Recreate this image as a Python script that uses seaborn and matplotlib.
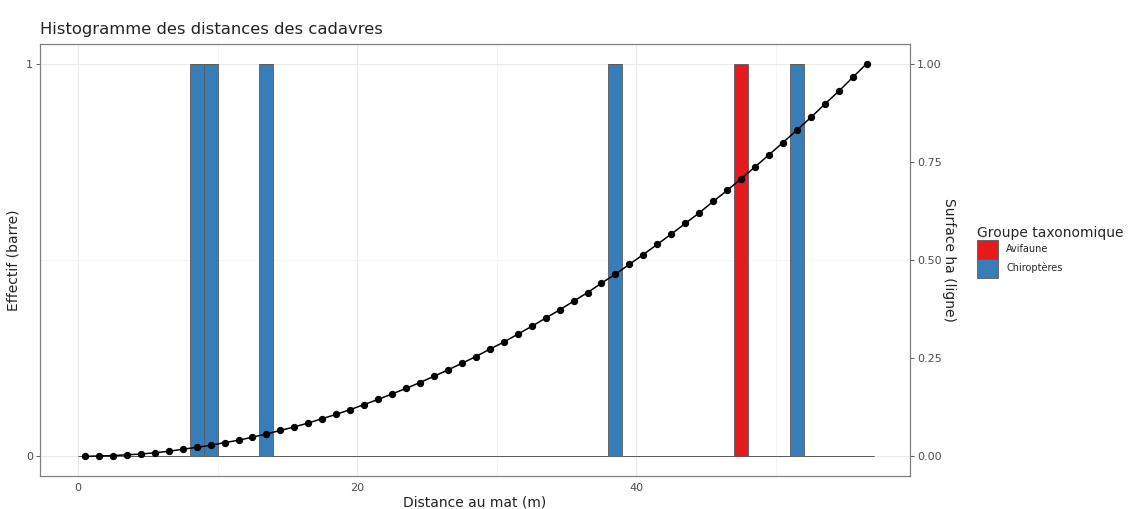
import matplotlib
matplotlib.use("Agg")
import matplotlib.pyplot as plt
from matplotlib.patches import Patch
from matplotlib.ticker import MultipleLocator
import numpy as np
import pandas as pd
import seaborn as sns

# cadavres : distance au mat (m) et groupe
distances = [8.6, 9.4, 13.6, 38.4, 47.5, 51.4]
groupes = ["Chiroptères", "Chiroptères", "Chiroptères", "Chiroptères", "Avifaune", "Chiroptères"]
groupe_order = ["Avifaune", "Chiroptères"]
groupe_colors = ["#E41A1C", "#377EB8"]

# surface (ha, normalisée) par anneau de distance
surf_dist = [0.5, 1.5, 2.5, 3.5, 4.5, 5.5, 6.5, 7.5, 8.5, 9.5, 10.5, 11.5, 12.5, 13.5,
             14.5, 15.5, 16.5, 17.5, 18.5, 19.5, 20.5, 21.5, 22.5, 23.5, 24.5, 25.5,
             26.5, 27.5, 28.5, 29.5, 30.5, 31.5, 32.5, 33.5, 34.5, 35.5, 36.5, 37.5,
             38.5, 39.5, 40.5, 41.5, 42.5, 43.5, 44.5, 45.5, 46.5, 47.5, 48.5, 49.5,
             50.5, 51.5, 52.5, 53.5, 54.5, 55.5, 56.5]
surf_ha = [0.000, 0.001, 0.002, 0.004, 0.006, 0.009, 0.013, 0.018, 0.023, 0.028, 0.035,
           0.041, 0.049, 0.057, 0.066, 0.075, 0.085, 0.096, 0.107, 0.119, 0.132, 0.145,
           0.159, 0.173, 0.188, 0.204, 0.220, 0.237, 0.254, 0.273, 0.291, 0.311, 0.331,
           0.352, 0.373, 0.395, 0.417, 0.441, 0.464, 0.489, 0.514, 0.540, 0.566, 0.593,
           0.620, 0.649, 0.677, 0.707, 0.737, 0.768, 0.799, 0.831, 0.863, 0.897, 0.930,
           0.965, 1.000]

df = pd.DataFrame({"distance": distances, "groupe": groupes})
df_surf = pd.DataFrame({"d": surf_dist, "s": surf_ha})

sns.set_style("white")
plt.rcParams["font.family"] = ["DejaVu Sans"]

fig = plt.figure(figsize=(11.28, 5.09), dpi=100)
ax = fig.add_axes([40 / 1128, 1 - 476 / 509, 870 / 1128, 432 / 509])

sns.histplot(data=df, x="distance", hue="groupe", hue_order=groupe_order,
             palette=groupe_colors, bins=np.arange(0, 58, 1), multiple="stack",
             edgecolor="#5a5a5a", linewidth=0.6, alpha=1, legend=False, ax=ax)

ax.set_xlim(-2.72, 59.6)
ax.set_ylim(-0.05, 1.05)
ax.set_yticks([0, 1])
ax.set_xticks([0, 20, 40])
ax.xaxis.set_minor_locator(MultipleLocator(10))
ax.yaxis.set_minor_locator(MultipleLocator(0.5))
ax.set_axisbelow(True)
ax.grid(which="major", color="#ebebeb", linewidth=0.8)
ax.grid(which="minor", color="#f2f2f2", linewidth=0.5)
ax.set_xlabel("Distance au mat (m)", fontsize=10, color="#222222", labelpad=2)
ax.set_ylabel("Effectif (barre)", fontsize=10, color="#222222", labelpad=4)
ax.tick_params(axis="both", which="major", length=3, width=0.6, color="#444444",
               labelsize=8, labelcolor="#4d4d4d", pad=2)
ax.tick_params(which="minor", length=0)

ax2 = ax.twinx()
sns.lineplot(data=df_surf, x="d", y="s", color="black", marker="o", markersize=4.5,
             markeredgecolor="black", linewidth=1.1, ax=ax2)
ax2.set_ylim(-0.05, 1.05)
ax2.set_yticks([0, 0.25, 0.5, 0.75, 1.0])
ax2.set_yticklabels(["0.00", "0.25", "0.50", "0.75", "1.00"])
ax2.set_ylabel("Surface ha (ligne)", fontsize=10, color="#222222", rotation=-90, labelpad=10)
ax2.set_xlabel("")
ax2.tick_params(axis="y", length=3, width=0.6, color="#444444", labelsize=8,
                labelcolor="#4d4d4d", pad=2)

for a in (ax, ax2):
    for sp in a.spines.values():
        sp.set_color("#7f7f7f")
        sp.set_linewidth(0.8)

ax.set_title("Histogramme des distances des cadavres", loc="left", fontsize=11.8,
             color="#222222", pad=7, x=0)

handles = [Patch(facecolor=c, edgecolor="#5a5a5a", linewidth=0.6) for c in groupe_colors]
leg = fig.legend(handles, groupe_order, title="Groupe taxonomique", loc="upper left",
                 bbox_to_anchor=(975 / 1128, 1 - 224 / 509), frameon=False,
                 fontsize=7, title_fontsize=10, handlelength=2.2, handleheight=2.6,
                 labelspacing=0.0, handletextpad=0.8, borderaxespad=0, borderpad=0.2)
leg._legend_box.align = "left"

fig.savefig("out.png", dpi=100)
